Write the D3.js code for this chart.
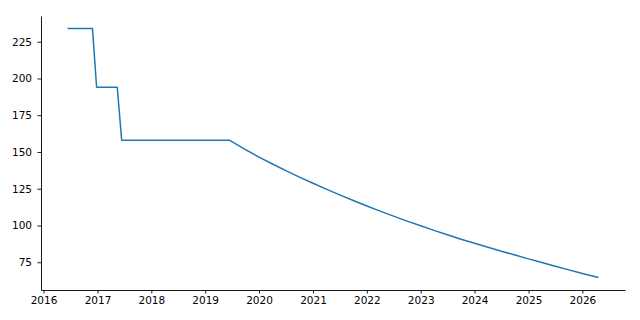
<!DOCTYPE html>
<html>
<head>
<meta charset="utf-8">
<script src="https://cdn.jsdelivr.net/npm/d3@7"></script>
<style>
  body { margin: 0; background: #fff; }
  svg { display: block; }
  .tick text { font-family: "DejaVu Sans", sans-serif; font-size: 10.5px; fill: #000; }
</style>
</head>
<body>
<svg width="640" height="320"></svg>
<script>
const dates = [
  "2016-06-12", "2016-11-28", "2016-12-26", "2017-05-15", "2017-06-14",
  "2019-06-14", "2019-10-01", "2020-01-01", "2020-04-01", "2020-07-01",
  "2020-10-01", "2021-01-01", "2021-04-01", "2021-07-01", "2021-10-01",
  "2022-01-01", "2022-04-01", "2022-07-01", "2022-10-01", "2023-01-01",
  "2023-04-01", "2023-07-01", "2023-10-01", "2024-01-01", "2024-04-01",
  "2024-07-01", "2024-10-01", "2025-01-01", "2025-04-01", "2025-07-01",
  "2025-10-01", "2026-01-01", "2026-04-20"
];
const values = [
  234, 234, 194, 194, 158,
  158, 151.6, 146.5, 141.8, 137.3,
  132.9, 128.7, 124.7, 120.8, 117.0,
  113.3, 109.8, 106.4, 103.0, 99.8,
  96.7, 93.7, 90.7, 87.9, 85.2,
  82.5, 79.9, 77.3, 74.8, 72.3,
  69.8, 67.4, 64.6
];
const yTicks = [75, 100, 125, 150, 175, 200, 225];
const xTickYears = [2016, 2017, 2018, 2019, 2020, 2021, 2022, 2023, 2024, 2025, 2026];

const parse = d3.timeParse("%Y-%m-%d");
const data = dates.map((d, i) => ({ date: parse(d), value: values[i] }));

const svg = d3.select("svg");
const plotLeft = 41, plotRight = 625, plotTop = 16, plotBottom = 290;

// matplotlib-style 5% margins
const [t0, t1] = d3.extent(data, d => d.date).map(d => +d);
const tPad = (t1 - t0) * 0.05;
const x = d3.scaleTime()
  .domain([new Date(t0 - tPad), new Date(t1 + tPad)])
  .range([plotLeft, plotRight]);

const [v0, v1] = d3.extent(values);
const vPad = (v1 - v0) * 0.05;
const y = d3.scaleLinear()
  .domain([v0 - vPad, v1 + vPad])
  .range([plotBottom, plotTop]);

svg.append("g")
  .attr("transform", `translate(0,${plotBottom})`)
  .call(d3.axisBottom(x)
    .tickValues(xTickYears.map(yr => new Date(yr, 0, 1)))
    .tickFormat(d3.timeFormat("%Y"))
    .tickSize(3.5)
    .tickSizeOuter(0)
    .tickPadding(3.5));

svg.append("g")
  .attr("transform", `translate(${plotLeft},0)`)
  .call(d3.axisLeft(y)
    .tickValues(yTicks)
    .tickSize(3.5)
    .tickSizeOuter(0)
    .tickPadding(5.5));

svg.selectAll(".domain, .tick line").attr("stroke", "#000").attr("stroke-width", 0.9);

const line = d3.line()
  .x(d => x(d.date))
  .y(d => y(d.value));

svg.append("path")
  .datum(data)
  .attr("fill", "none")
  .attr("stroke", "#1f77b4")
  .attr("stroke-width", 1.5)
  .attr("stroke-linejoin", "round")
  .attr("d", line);
</script>
</body>
</html>
